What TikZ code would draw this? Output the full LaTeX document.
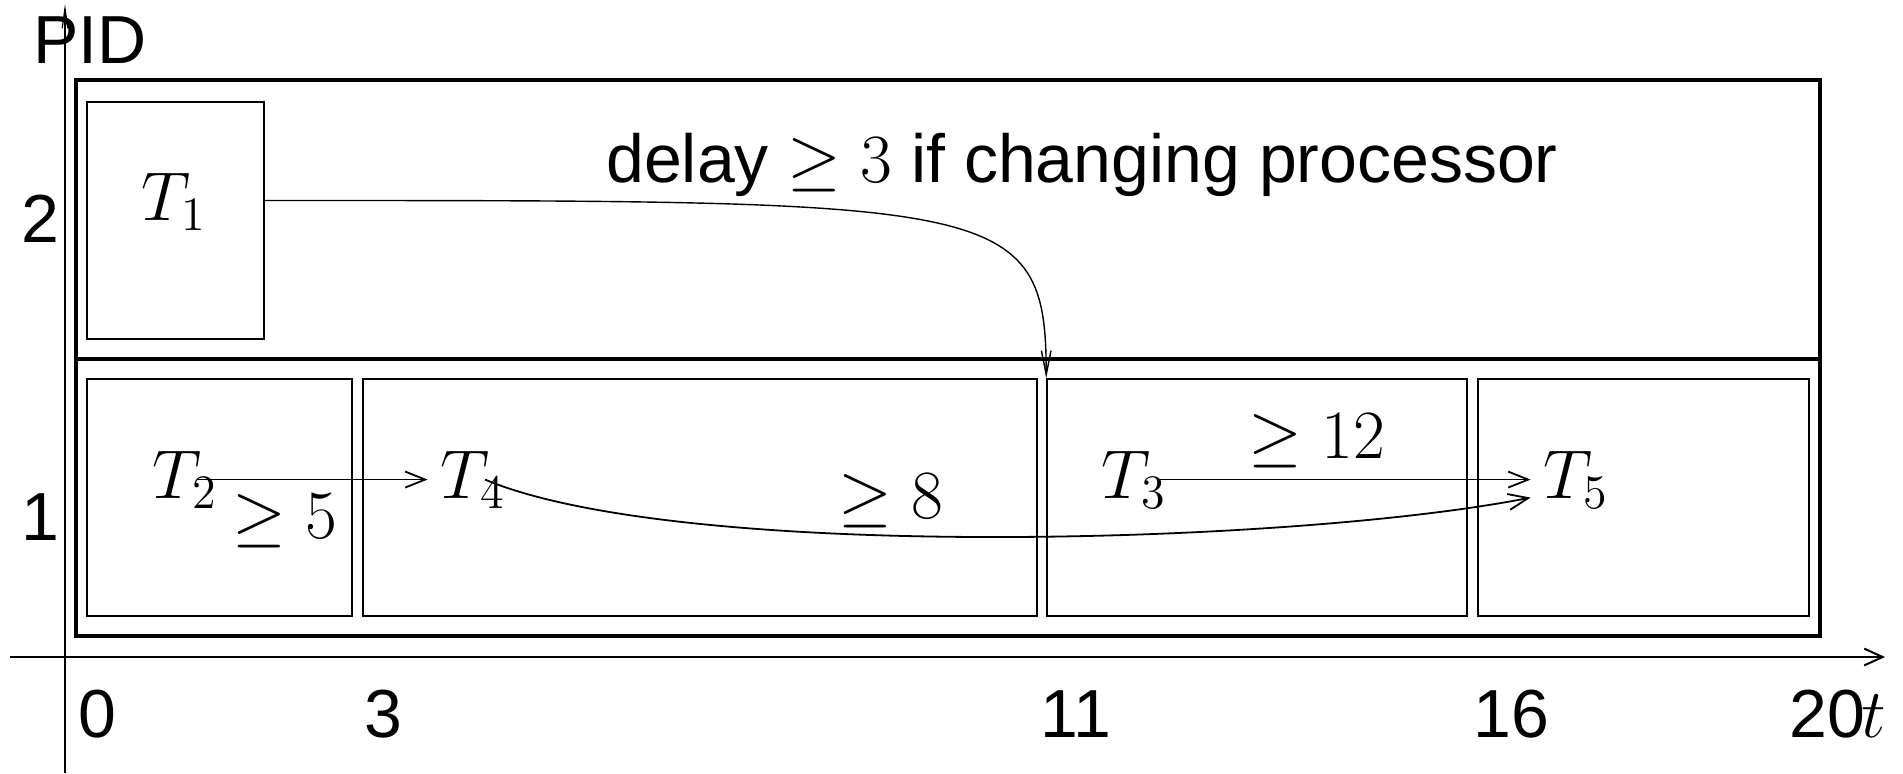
\documentclass[tikz,border=0pt]{standalone}
\usepackage[no-math]{fontspec}
\setmainfont{Liberation Sans}
\usetikzlibrary{arrows.meta,calc,fit}
\begin{document}
\begin{tikzpicture}[x=0.25pt,y=-0.25pt,
  font=\fontsize{17}{20}\selectfont,
  lbl/.style={inner sep=0pt, anchor=base},
  tsk/.style={inner sep=3pt, anchor=base},
  taskbox/.style={draw, line width=0.4pt, inner sep=0pt},
  frame/.style={line width=1.1pt},
  conn/.style={line width=0.45pt, -{Straight Barb[length=5pt,width=4pt]}},
  longconn/.style={line width=0.35pt, -{Straight Barb[length=6pt,width=2.4pt]}},
  xaxis/.style={line width=0.5pt, -{Straight Barb[length=4.6pt,width=4.2pt]}},
  yaxis/.style={line width=0.3pt, -{Straight Barb[length=5pt,width=1.4pt]}}]
\useasboundingbox (0,0) rectangle (1903,773);

% axes
\coordinate (xs) at (10,657);
\coordinate (xe) at (1885,657);
\coordinate (ys) at (65,773);
\coordinate (ye) at (65,4);
\draw[xaxis] (xs) -- (xe);
\draw[yaxis] (ys) -- (ye);

% axis labels
\node[lbl] (pid) at (90,63) {PID};
\node[lbl] (y2) at (40,242) {2};
\node[lbl] (y1) at (40,540) {1};
\node[lbl] (x0) at (97,737) {0};
\node[lbl] (x3) at (383,737) {3};
\node[lbl] (x11) at (1076,737) {11};
\node[lbl] (x16) at (1511,737) {16};
\node[lbl] (x20) at (1827,737) {20};
\node[lbl] (tl) at (1874,737) {$t$};

% processor frame
\draw[frame] (76,80) rectangle (1820,636);
\draw[frame] (76,359) -- (1820,359);

% task boxes
\node[taskbox, fit={(87,102) (264,339)}] (B1) {};
\node[taskbox, fit={(87,379) (352,616)}] (B2) {};
\node[taskbox, fit={(363,379) (1037,616)}] (B4) {};
\node[taskbox, fit={(1047,379) (1467,616)}] (B3) {};
\node[taskbox, fit={(1478,379) (1809,616)}] (B5) {};

% task labels
\node[tsk] (T1) at (174,220) {$T_1$};
\node[tsk] (T2) at (185,498) {$T_2$};
\node[tsk] (T4) at (473,498) {$T_4$};
\node[tsk] (T3) at (1134,498) {$T_3$};
\node[tsk] (T5) at (1576,498) {$T_5$};

% constraint labels
\node[lbl] (delay) at (1082,182) {delay $\geq 3$ if changing processor};
\node[lbl] (g5) at (285,538) {$\geq 5$};
\node[lbl] (g8) at (891,518) {$\geq 8$};
\node[lbl] (g12) at (1317,458) {$\geq 12$};

% connectors
\draw[conn] ($(T2.center)+(13,0)$) -- (T4.west);
\draw[conn] ($(T3.center)+(24,0)$) -- (T5.west);
\draw[conn] ($(T4.center)+(12,0)$) .. controls ($(T4.center)+(207,82)$) and ($(T5.west)+(-240,65)$) .. ($(T5.west)+(0,18)$);
\draw[longconn] ($(B1.east)+(0,-20)$) .. controls ($(B1.east)+(736,-20)$) and ($(B3.north west)+(0,-179)$) .. (B3.north west);
\end{tikzpicture}
\end{document}
